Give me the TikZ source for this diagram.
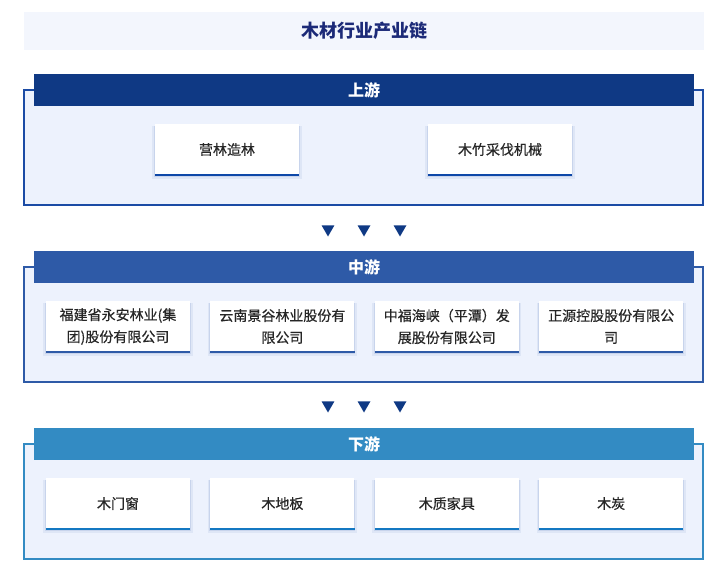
\documentclass[tikz,border=0pt]{standalone}
\usepackage{fontspec}
\setmainfont{Noto Sans CJK SC}
\newfontfamily\boxfont{Noto Sans CJK SC}[FakeBold=0.5]
\usetikzlibrary{positioning,shapes.geometric,shadows}
\definecolor{upblue}{HTML}{0F3984}
\definecolor{upedge}{HTML}{1B4BA5}
\definecolor{upline}{HTML}{0D47A8}
\definecolor{midblue}{HTML}{2E5AA7}
\definecolor{downblue}{HTML}{338BC3}
\definecolor{downline}{HTML}{1478C2}
\definecolor{framefill}{HTML}{EDF2FD}
\definecolor{bandfill}{HTML}{F3F6FD}
\definecolor{titletext}{HTML}{1C2A78}
\definecolor{boxtext}{HTML}{262626}

\begin{document}
\begin{tikzpicture}[x=1pt,y=-1pt,node distance=20pt and 20pt]

\tikzset{titleband/.style={fill=bandfill,minimum width=680pt,minimum height=38pt,inner sep=0pt,text=titletext,font=\fontsize{18}{20}\selectfont\bfseries},
stageframe/.style={draw=#1,line width=2pt,fill=framefill,minimum width=679pt,minimum height=115pt,inner sep=0pt},
stagehead/.style={fill=#1,minimum width=660pt,minimum height=32pt,inner sep=0pt,text=white,font=\fontsize{16}{18}\selectfont\bfseries},
itembox/.style={fill=white,minimum width=144pt,minimum height=51pt,inner sep=0pt,align=center,text=boxtext,font=\boxfont\fontsize{14}{22}\selectfont,
  drop shadow={shadow xshift=0pt,shadow yshift=-3pt,shadow scale=1.035,fill=midblue,opacity=0.08},
  drop shadow={shadow xshift=0pt,shadow yshift=-2pt,shadow scale=1.015,fill=midblue,opacity=0.12}},
boxline/.style={line width=2pt,draw=#1},
downarrow/.style={regular polygon,regular polygon sides=3,shape border rotate=180,fill=upblue,minimum size=15pt,inner sep=0pt}}

\useasboundingbox (0,0) rectangle (728,586);

% Title
\node[titleband] (title) at (364,31) {木材行业产业链};

% Upstream
\node[stageframe=upedge] (frUp) at (363.5,147.5) {};
\node[stagehead=upblue] (hdUp) at (364,90) {上游};
\node[itembox] (up1) at (227,149.5) {营林造林};
\node[itembox] (up2) at (500,149.5) {木竹采伐机械};
\foreach \n in {up1,up2} \draw[boxline=upline] (\n.south west) -- (\n.south east);

% Arrows
\foreach \x [count=\i] in {328,364,400} \node[downarrow] (a\i) at (\x,229) {};

% Midstream
\node[stageframe=midblue] (frMid) at (363.5,324.5) {};
\node[stagehead=midblue] (hdMid) at (364,267) {中游};
\node[itembox] (mid1) at (118,326.5) {福建省永安林业(集\\团)股份有限公司};
\node[itembox] (mid2) [right=of mid1] {云南景谷林业股份有\\限公司};
\node[itembox] (mid3) [right=of mid2] {中福海峡（平潭）发\\展股份有限公司};
\node[itembox] (mid4) [right=of mid3] {正源控股股份有限公\\司};
\foreach \n in {mid1,mid2,mid3,mid4} \draw[boxline=midblue] (\n.south west) -- (\n.south east);

% Arrows
\foreach \x [count=\i] in {328,364,400} \node[downarrow] (b\i) at (\x,405) {};

% Downstream
\node[stageframe=downblue] (frDown) at (363.5,501.5) {};
\node[stagehead=downblue] (hdDown) at (364,444) {下游};
\node[itembox] (down1) at (118,503.5) {木门窗};
\node[itembox] (down2) [right=of down1] {木地板};
\node[itembox] (down3) [right=of down2] {木质家具};
\node[itembox] (down4) [right=of down3] {木炭};
\foreach \n in {down1,down2,down3,down4} \draw[boxline=downline] (\n.south west) -- (\n.south east);

\end{tikzpicture}
\end{document}
